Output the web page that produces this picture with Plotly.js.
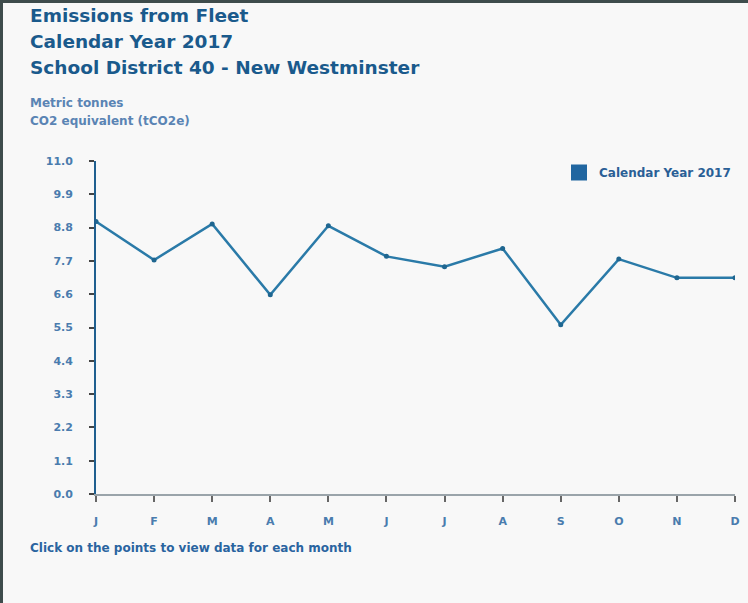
<!DOCTYPE html>
<html>
<head>
<meta charset="utf-8">
<script src="https://cdn.plot.ly/plotly-3.0.1.min.js"></script>
<style>
html,body{margin:0;padding:0;background:#f8f8f8;}
#wrap{position:absolute;left:0;top:0;width:748px;height:603px;box-sizing:border-box;border-left:3px solid #3e4c4c;border-top:3px solid #3e4c4c;pointer-events:none;}
#chart{position:absolute;left:0;top:0;width:748px;height:603px;}
</style>
</head>
<body>
<div id="chart"></div>
<div id="wrap"></div>
<script>
var months = ["J","F","M","A","M","J","J","A","S","O","N","D"];
var monthIndex = [0,1,2,3,4,5,6,7,8,9,10,11];
var emissions2017 = [9.0, 7.73, 8.92, 6.58, 8.86, 7.85, 7.51, 8.11, 5.59, 7.76, 7.14, 7.14];
var yTicks = [0.0, 1.1, 2.2, 3.3, 4.4, 5.5, 6.6, 7.7, 8.8, 9.9, 11.0];
var yTickText = ["0.0","1.1","2.2","3.3","4.4","5.5","6.6","7.7","8.8","9.9","11.0"];
var seriesName = "Calendar Year 2017";
var titleLines = ["Emissions from Fleet", "Calendar Year 2017", "School District 40 - New Westminster"];
var unitLines = ["Metric tonnes", "CO2 equivalent (tCO2e)"];
var footerText = "Click on the points to view data for each month";

var lineColor = "#2a7aa8";
var labelColor = "#4a7cae";

// plot area geometry (pixels)
var L = 96, R = 735, T = 161, B = 494;
var W = R - L, H = B - T;
function px(x){ return (x - L) / W; }
function py(y){ return (B - y) / H; }

var traces = [
  {
    x: monthIndex, y: emissions2017, type: "scatter", mode: "lines+markers",
    line: {color: lineColor, width: 2.5},
    marker: {color: "#1f6690", size: 5},
    showlegend: false, name: seriesName,
    hoverinfo: "x+y"
  },
  {
    x: [null], y: [null], type: "scatter", mode: "markers",
    marker: {color: "#2166a0", size: 19, symbol: "square"},
    name: seriesName, showlegend: true
  }
];

var annotations = [];
var titleY = [16, 42, 68];
titleLines.forEach(function(t, i){
  annotations.push({text: "<b>" + t + "</b>", xref: "paper", yref: "paper", x: px(28), y: py(titleY[i]),
    xanchor: "left", yanchor: "middle", showarrow: false,
    font: {size: 18.5, color: "#1a5a8c", family: "DejaVu Sans, sans-serif", weight: "bold"}});
});
var unitY = [103, 121];
unitLines.forEach(function(t, i){
  annotations.push({text: "<b>" + t + "</b>", xref: "paper", yref: "paper", x: px(28), y: py(unitY[i]),
    xanchor: "left", yanchor: "middle", showarrow: false,
    font: {size: 12, color: "#5a84b4", family: "DejaVu Sans, sans-serif"}});
});
annotations.push({text: "<b>" + footerText + "</b>", xref: "paper", yref: "paper", x: px(28), y: py(548),
  xanchor: "left", yanchor: "middle", showarrow: false,
  font: {size: 12, color: "#2a64a0", family: "DejaVu Sans, sans-serif"}});

var layout = {
  width: 748, height: 603,
  paper_bgcolor: "#f8f8f8", plot_bgcolor: "#f8f8f8",
  margin: {l: L, r: 748 - R, t: T, b: 603 - B, autoexpand: false},
  font: {family: "DejaVu Sans, sans-serif", color: labelColor},
  xaxis: {
    range: [0, 11],
    tickmode: "array", tickvals: monthIndex, ticktext: months,
    ticks: "outside", ticklen: 6, tickcolor: "#666", tickwidth: 1.5,
    showline: true, linecolor: "#9aa4aa", linewidth: 1.5,
    showgrid: false, zeroline: false,
    tickfont: {size: 11, color: labelColor, family: "DejaVu Sans, sans-serif", weight: "bold"},
    ticklabelstandoff: 10,
    fixedrange: true
  },
  yaxis: {
    range: [0, 11],
    tickmode: "array", tickvals: yTicks, ticktext: yTickText,
    ticks: "outside", ticklen: 5, tickcolor: "#444", tickwidth: 1.5,
    showline: true, linecolor: "#1f5f8f", linewidth: 1.8,
    showgrid: false, zeroline: false,
    tickfont: {size: 11, color: labelColor, family: "DejaVu Sans, sans-serif", weight: "bold"},
    ticklabelstandoff: 14,
    fixedrange: true
  },
  legend: {
    x: px(559), xref: "paper", xanchor: "left",
    y: py(158), yref: "paper", yanchor: "top",
    bgcolor: "rgba(0,0,0,0)",
    font: {size: 12, color: "#2a5f96", family: "DejaVu Sans, sans-serif", weight: "bold"},
    itemwidth: 30
  },
  annotations: annotations,
  showlegend: true
};

Plotly.newPlot("chart", traces, layout, {displayModeBar: false, responsive: false});
</script>
</body>
</html>
